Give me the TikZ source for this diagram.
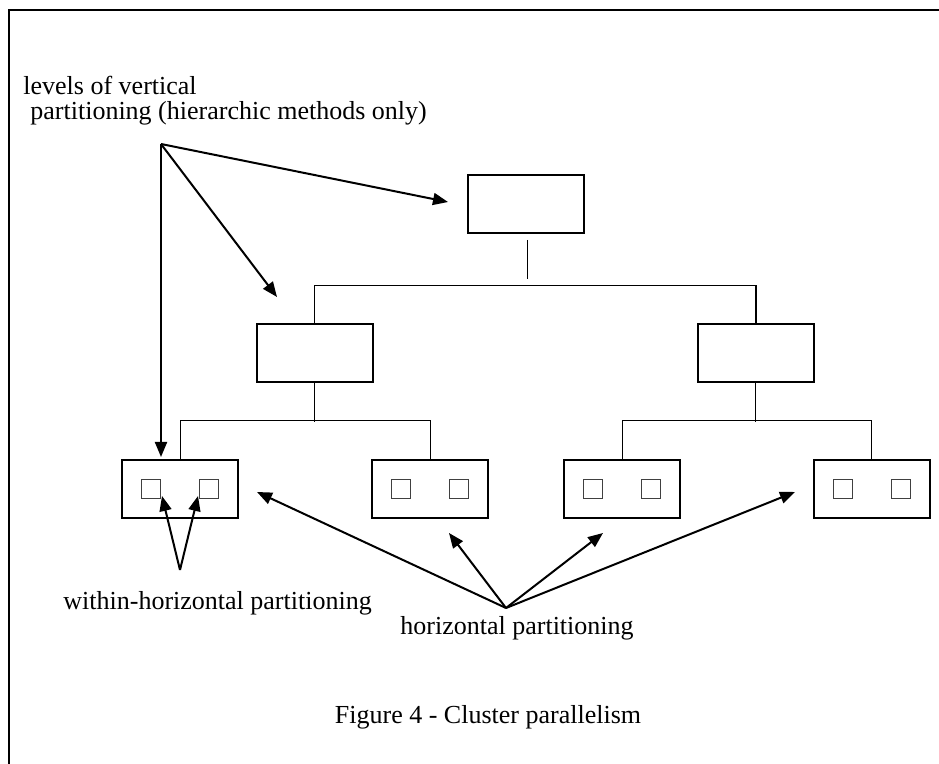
\documentclass[tikz,border=0pt]{standalone}
\usepackage{fontspec}
\setmainfont{Liberation Serif}
\usetikzlibrary{arrows.meta,calc}

\tikzset{
  frameline/.style={line width=1.35pt},
  bigbox/.style={draw, line width=1pt, minimum width=58pt, minimum height=29pt, inner sep=0pt},
  cell/.style={draw, line width=0.5pt, draw=black!75, minimum width=9.5pt, minimum height=9.5pt, inner sep=0pt},
  tree/.style={line width=0.45pt},
  pointer/.style={line width=1pt, -{Triangle[length=7.5pt,width=6pt]}},
  label/.style={font=\fontsize{13}{15}\selectfont, inner sep=0pt},
}

\begin{document}
\begin{tikzpicture}[x=0.5pt, y=-0.5pt]
  \useasboundingbox (0,0) rectangle (939,764);

  % open frame: top and left edges only
  \draw[frameline] (9,764) -- (9,10) -- (939,10);

  % hierarchy of partition boxes
  \node[bigbox] (top) at (525.7,204) {};
  \node[bigbox] (ml)  at (314.5,353) {};
  \node[bigbox] (mr)  at (755.5,353) {};
  \node[bigbox] (b1)  at (180,489) {};
  \node[bigbox] (b2)  at (430,489) {};
  \node[bigbox] (b3)  at (622,489) {};
  \node[bigbox] (b4)  at (871.5,489) {};

  % two cells inside each leaf box
  \foreach \b in {b1,b2,b3,b4}{
    \node[cell] (\b l) at ($(\b)+(-29,0)$) {};
    \node[cell] (\b r) at ($(\b)+(29,0)$) {};
  }

  % tree connectors
  \draw[tree] ($(top.south)+(1.3,6)$) -- ++(0,39);
  \draw[tree] (ml.north) -- ++(0,-38) -| (mr.north |- 0,286);
  \draw[line width=1pt] (mr.north) -- ++(0,-38);
  \draw[tree] (ml.south) -- ++(0,39);
  \draw[tree] (b1.north) -- ++(0,-39) -| (b2.north);
  \draw[tree] (mr.south) -- ++(0,39);
  \draw[tree] (b3.north) -- ++(0,-39) -| (b4.north);

  % texts
  \node[label, anchor=base west] (lv1) at (23,95) {levels of vertical};
  \node[label, anchor=base west] (lv2) at (30,120) {partitioning (hierarchic methods only)};
  \node[label, anchor=base west] (wh) at (63,610) {within-horizontal partitioning};
  \node[label, anchor=base west] (hp) at (400,635) {horizontal partitioning};
  \node[label, anchor=base] (cap) at (488,724) {Figure 4 - Cluster parallelism};

  % arrow sources and tips
  \coordinate (vsrc) at (161,144);
  \coordinate (wsrc) at (180,570);
  \coordinate (hsrc) at (506,608);
  \coordinate (vt1) at (448,202);
  \coordinate (vt2) at (277,297);
  \coordinate (vt3) at (161,457);
  \coordinate (wt1) at (162,496);
  \coordinate (wt2) at (198,496);
  \coordinate (ht1) at (257,492);
  \coordinate (ht2) at (449,533);
  \coordinate (ht3) at (603,533);
  \coordinate (ht4) at (795,492);

  \foreach \t in {vt1,vt2,vt3} \draw[pointer] (vsrc) -- (\t);
  \foreach \t in {wt1,wt2} \draw[pointer] (wsrc) -- (\t);
  \foreach \t in {ht1,ht2,ht3,ht4} \draw[pointer] (hsrc) -- (\t);
\end{tikzpicture}
\end{document}
